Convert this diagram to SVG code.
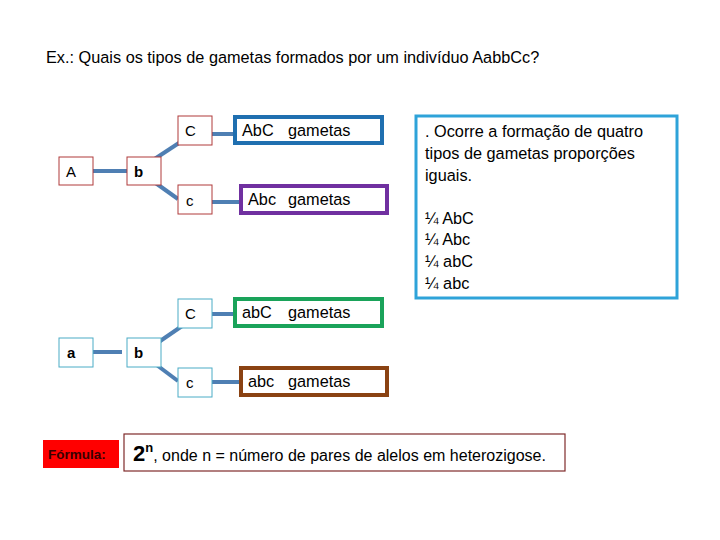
<svg xmlns="http://www.w3.org/2000/svg" width="720" height="540" viewBox="0 0 720 540">
<style>
text{font-family:"Liberation Sans",Arial,sans-serif;fill:#000}
.t{font-size:16.3px}
.s{font-size:15px}
.rb{fill:#fff;stroke:#b03a3a;stroke-width:1}
.bb{fill:#fff;stroke:#4bacc6;stroke-width:1}
.g{fill:#fff;stroke-width:4}
.ln{stroke:#4f7fb3;stroke-width:4;fill:none}
</style>
<rect width="720" height="540" fill="#fff"/>
<text class="t" x="46" y="63">Ex.: Quais os tipos de gametas formados por um indivíduo AabbCc?</text>
<g id="connectors">
<line class="ln" x1="93" y1="171" x2="127" y2="171"/>
<line class="ln" x1="150" y1="162" x2="185" y2="139"/>
<line class="ln" x1="150" y1="179" x2="178" y2="199"/>
<line class="ln" x1="202" y1="134" x2="235" y2="134"/>
<line class="ln" x1="202" y1="202" x2="239" y2="202"/>
<line class="ln" x1="88" y1="352" x2="122" y2="352"/>
<line class="ln" x1="150" y1="348" x2="185" y2="324"/>
<line class="ln" x1="150" y1="360" x2="178" y2="381"/>
<line class="ln" x1="202" y1="314" x2="235" y2="314"/>
<line class="ln" x1="202" y1="382" x2="239" y2="382"/>
</g>
<g id="nA"><rect class="rb" x="59" y="157" width="34" height="28"/><text class="s" x="66" y="177">A</text></g>
<g id="nb1"><rect class="rb" x="127" y="157" width="34" height="28"/><text class="s" x="134" y="177" font-weight="bold">b</text></g>
<g id="nC1"><rect class="rb" x="178" y="116" width="34" height="29"/><text class="s" x="185" y="136">C</text></g>
<g id="nc1"><rect class="rb" x="178" y="185" width="34" height="29"/><text class="s" x="186" y="206">c</text></g>
<g id="g1"><rect class="g" x="235" y="117" width="147" height="26" stroke="#1f6fb0"/><text class="t" x="242" y="136">AbC</text><text class="t" x="288" y="136">gametas</text></g>
<g id="g2"><rect class="g" x="241" y="186" width="146" height="27" stroke="#7030a0"/><text class="t" x="248" y="205">Abc</text><text class="t" x="288" y="205">gametas</text></g>
<g id="na"><rect class="bb" x="59" y="338" width="34" height="29"/><text class="s" x="67" y="358" font-weight="bold">a</text></g>
<g id="nb2"><rect class="bb" x="127" y="338" width="34" height="29"/><text class="s" x="134" y="358" font-weight="bold">b</text></g>
<g id="nC2"><rect class="bb" x="178" y="299" width="34" height="29"/><text class="s" x="185" y="319">C</text></g>
<g id="nc2"><rect class="bb" x="178" y="368" width="34" height="29"/><text class="s" x="186" y="388">c</text></g>
<g id="g3"><rect class="g" x="235" y="299" width="147" height="27" stroke="#1aa35a"/><text class="t" x="242" y="318">abC</text><text class="t" x="288" y="318">gametas</text></g>
<g id="g4"><rect class="g" x="241" y="368" width="146" height="27" stroke="#8a4212"/><text class="t" x="248" y="387">abc</text><text class="t" x="288" y="387">gametas</text></g>
<g id="info">
<rect x="416" y="116" width="261" height="182" fill="#fff" stroke="#2ea3d9" stroke-width="3"/>
<text class="t" x="425" y="137">. Ocorre a formação de quatro</text>
<text class="t" x="425" y="159">tipos de gametas proporções</text>
<text class="t" x="425" y="181">iguais.</text>
<text class="t" x="425" y="224">¼ AbC</text>
<text class="t" x="425" y="245">¼ Abc</text>
<text class="t" x="425" y="267">¼ abC</text>
<text class="t" x="425" y="289">¼ abc</text>
</g>
<g id="formula-label"><rect x="43" y="440" width="76" height="28" fill="#ff0000"/><text x="48" y="459" font-size="13.5" font-weight="bold" style="fill:#3a0000">Fórmula:</text></g>
<g id="formula"><rect x="124" y="434" width="441" height="37" fill="#fff" stroke="#7f2a2a" stroke-width="1.2"/>
<text x="133" y="461"><tspan font-size="22" font-weight="bold">2</tspan><tspan font-size="13" font-weight="bold" dy="-9">n</tspan><tspan font-size="16" dy="9">, onde n = número de pares de alelos em heterozigose.</tspan></text></g>
</svg>
